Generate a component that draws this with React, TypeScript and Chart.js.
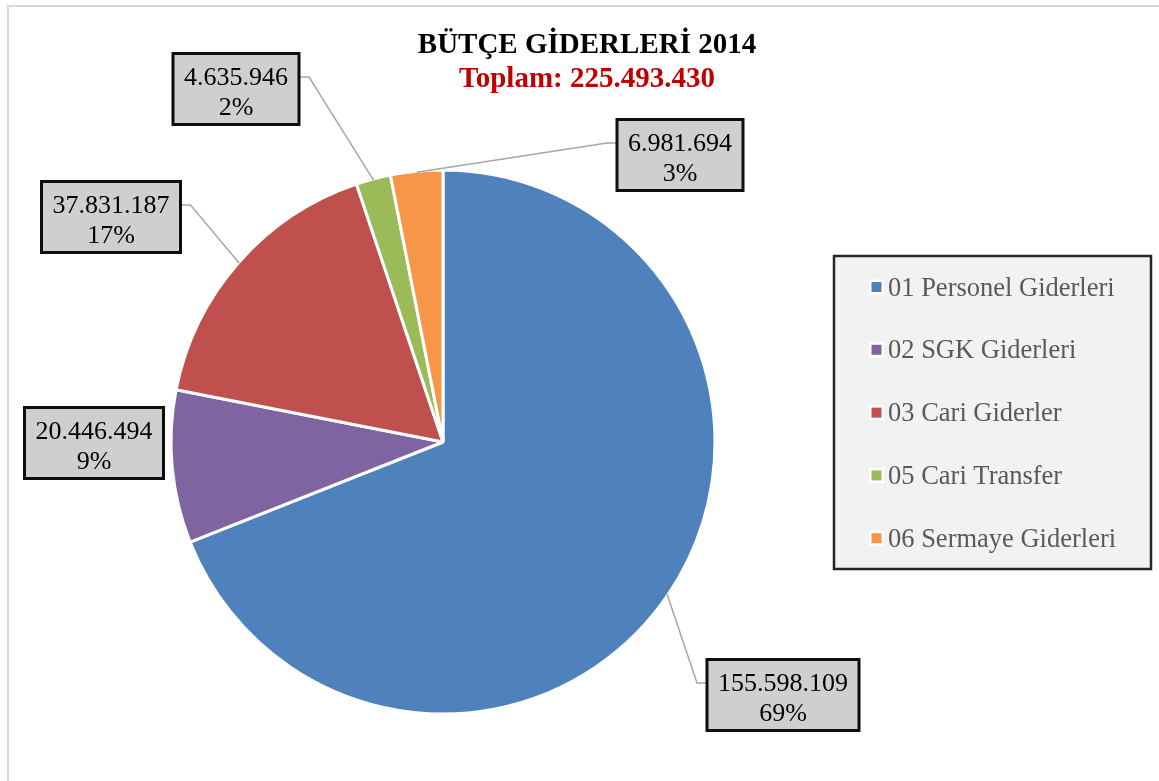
import React, { useEffect, useRef } from "react";
import { Chart, registerables } from "chart.js";

Chart.register(...registerables);

// ---- data ----
const categories = [
  "01 Personel Giderleri",
  "02 SGK Giderleri",
  "03 Cari Giderler",
  "05 Cari Transfer",
  "06 Sermaye Giderleri",
];
const values = [155598109, 20446494, 37831187, 4635946, 6981694];
const titleText = "BÜTÇE GİDERLERİ 2014";
const subtitlePrefix = "Toplam: ";

// ---- style / layout ----
const colors = ["#4f81bd", "#8064a2", "#c0504d", "#9bbb59", "#f79646"];
const labelCenters: [number, number][] = [
  [783, 695],
  [94, 443],
  [111, 217],
  [236, 89],
  [680, 155],
];
const FONT = "'Liberation Serif', 'Times New Roman', serif";
const W = 1159;
const H = 781;

const fmt = (v: number) => String(v).replace(/\B(?=(\d{3})+(?!\d))/g, ".");

const overlayPlugin = {
  id: "overlay",
  beforeDraw(chart: any) {
    const ctx = chart.ctx;
    ctx.save();
    // outer border
    ctx.strokeStyle = "#d9d9d9";
    ctx.lineWidth = 2;
    ctx.strokeRect(8, 6, 1300, 900);
    ctx.restore();
  },
  afterDraw(chart: any) {
    const ctx = chart.ctx;
    const ds = chart.data.datasets[0];
    const data: number[] = ds.data;
    const total = data.reduce((a, b) => a + b, 0);
    ctx.save();

    // title
    ctx.textAlign = "center";
    ctx.textBaseline = "alphabetic";
    ctx.font = `bold 29px ${FONT}`;
    ctx.fillStyle = "#000000";
    ctx.fillText(titleText, 587, 53);
    ctx.fillStyle = "#c00000";
    ctx.fillText(subtitlePrefix + fmt(total), 587, 87);

    // data labels
    const meta = chart.getDatasetMeta(0);
    meta.data.forEach((arc: any, i: number) => {
      const p = arc.getProps(["x", "y", "startAngle", "endAngle", "outerRadius"], true);
      const mid = (p.startAngle + p.endAngle) / 2;
      const px = p.x + Math.cos(mid) * (p.outerRadius - 1);
      const py = p.y + Math.sin(mid) * (p.outerRadius - 1);
      const line1 = fmt(data[i]);
      const line2 = Math.round((data[i] / total) * 100) + "%";
      ctx.font = `26px ${FONT}`;
      const tw = Math.max(ctx.measureText(line1).width, ctx.measureText(line2).width);
      const bw = tw + 22;
      const bh = 71;
      const [cx, cy] = labelCenters[i];
      const left = cx - bw / 2;
      const right = cx + bw / 2;
      const ay = cy - 12;
      let ax = 0;
      let ex = 0;
      let draw = false;
      if (px > right) {
        ax = right;
        ex = right + 10;
        draw = true;
      } else if (px < left) {
        ax = left;
        ex = left - 10;
        draw = true;
      }
      if (draw && Math.abs(px - ax) > 30) {
        ctx.strokeStyle = "#a6a6a6";
        ctx.lineWidth = 1.5;
        ctx.beginPath();
        ctx.moveTo(ax, ay);
        ctx.lineTo(ex, ay);
        ctx.lineTo(px, py);
        ctx.stroke();
      }
      ctx.fillStyle = "#d0cece";
      ctx.fillRect(left, cy - bh / 2, bw, bh);
      ctx.strokeStyle = "#0d0d0d";
      ctx.lineWidth = 3;
      ctx.strokeRect(left, cy - bh / 2, bw, bh);
      ctx.fillStyle = "#000000";
      ctx.textAlign = "center";
      ctx.font = `26px ${FONT}`;
      ctx.fillText(line1, cx, cy - 4);
      ctx.fillText(line2, cx, cy + 26);
    });

    // legend
    const lx = 834;
    const ly = 256;
    const lw = 317;
    const lh = 313;
    ctx.fillStyle = "#f2f2f2";
    ctx.fillRect(lx, ly, lw, lh);
    ctx.strokeStyle = "#262626";
    ctx.lineWidth = 2.5;
    ctx.strokeRect(lx, ly, lw, lh);
    const labels: string[] = chart.data.labels;
    ctx.font = `26.5px ${FONT}`;
    ctx.textAlign = "left";
    labels.forEach((lab, i) => {
      const icy = 287 + i * 62.8;
      ctx.fillStyle = "#ffffff";
      ctx.fillRect(869, icy - 7.5, 15, 15);
      ctx.fillStyle = ds.backgroundColor[i];
      ctx.fillRect(871.5, icy - 5, 10, 10);
      ctx.fillStyle = "#595959";
      ctx.fillText(lab, 888, icy + 8.5);
    });

    ctx.restore();
  },
};

export default function App() {
  const ref = useRef<HTMLCanvasElement | null>(null);
  useEffect(() => {
    if (!ref.current) return;
    const chart = new Chart(ref.current, {
      type: "pie",
      data: {
        labels: categories,
        datasets: [
          {
            data: values,
            backgroundColor: colors,
            borderColor: "#ffffff",
            borderWidth: 3,
          },
        ],
      },
      options: {
        responsive: false,
        animation: false,
        radius: 272,
        layout: { padding: { left: 0, right: 273, top: 103, bottom: 0 } },
        plugins: {
          legend: { display: false },
          title: { display: false },
          tooltip: { enabled: false },
        },
      } as any,
      plugins: [overlayPlugin],
    });
    return () => chart.destroy();
  }, []);
  return (
    <div style={{ position: "fixed", left: 0, top: 0, width: W, height: H, background: "#ffffff" }}>
      <canvas ref={ref} width={W} height={H} style={{ width: W, height: H, display: "block" }} />
    </div>
  );
}
